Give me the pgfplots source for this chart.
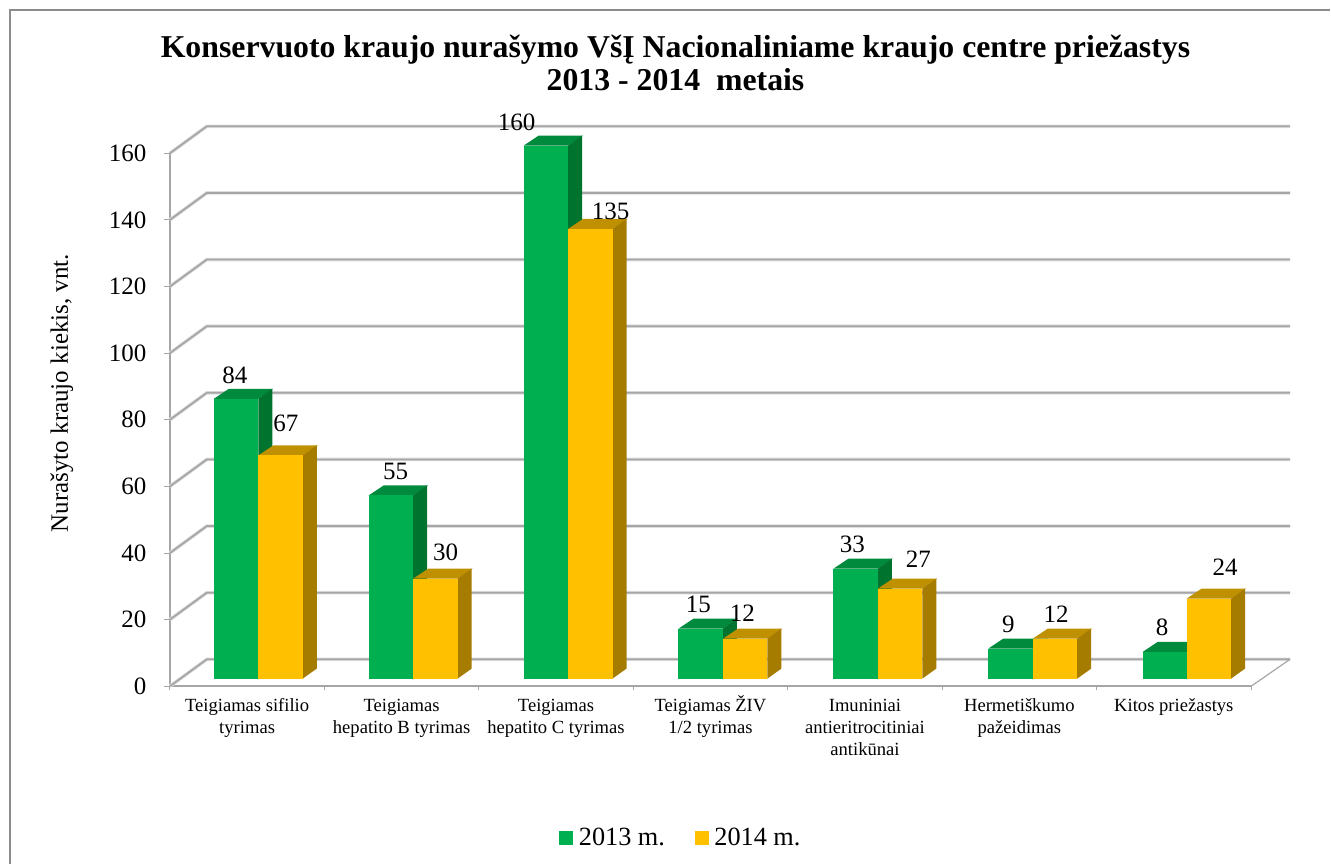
\documentclass[border=0pt]{standalone}
\usepackage{pgfplots}
\pgfplotsset{compat=1.18}
\usepackage{fontspec}
\setmainfont{Liberation Serif}
\definecolor{gridg}{HTML}{A6A6A6}
\definecolor{halo}{HTML}{DDDDDD}
\definecolor{frameg}{HTML}{8C8C8C}
\definecolor{gfront}{HTML}{00B050}
\definecolor{gtop}{HTML}{008A3E}
\definecolor{gside}{HTML}{00742F}
\definecolor{yfront}{HTML}{FFC000}
\definecolor{ytop}{HTML}{BF9000}
\definecolor{yside}{HTML}{A67C00}
% left edge, value, top colour, side colour, front colour
\newcommand\threedbar[5]{%
  \addplot[forget plot,fill=#3,draw=none] coordinates {({#1},{#2+2.3}) ({#1+15},{#2+5.3}) ({#1+59.5},{#2+5.3}) ({#1+44.5},{#2+2.3})} -- cycle;
  \addplot[forget plot,fill=#4,draw=none] coordinates {({#1+44.5},2.3) ({#1+58.5},5.3) ({#1+58.5},{#2+5.3}) ({#1+44.5},{#2+2.3})} -- cycle;
  \addplot[forget plot,fill=#5,draw=none] coordinates {({#1},2.3) ({#1+44.5},2.3) ({#1+44.5},{#2+2.3}) ({#1},{#2+2.3})} -- cycle;
}
\newcommand\vlab[3]{\node[font=\fontsize{25}{25}\selectfont,inner sep=0pt] at (axis cs:#1,{(686.7-#2)/3.3333}) {#3};}
\newcommand\st{\rule{0pt}{16pt}}
\begin{document}
\begin{tikzpicture}
\begin{axis}[
  scale only axis, width=1082pt, height=533.4pt,
  xmin=170, xmax=1252, ymin=0, ymax=160,
  clip=false,
  axis lines*=left,
  axis line style={draw=gridg,line width=1.6pt,-},
  ytick={0,20,...,160},
  /pgf/number format/assume math mode=true,
  yticklabel style={font=\fontsize{25}{25}\selectfont,xshift=-14pt},
  ytick style={draw=gridg,line width=1pt},
  major tick length=6pt,
  tick align=outside,
  xtick={247.3,401.9,556.4,711,865.6,1020.1,1174.7},
  xticklabels={{\st Teigiamas sifilio\\tyrimas},{\st Teigiamas\\hepatito B tyrimas},{\st Teigiamas\\hepatito C tyrimas},{\st Teigiamas ŽIV\\1/2 tyrimas},{\st Imuniniai\\antieritrocitiniai\\antikūnai},{\st Hermetiškumo\\pažeidimas},{\st Kitos priežastys}},
  xticklabel style={font=\fontsize{18.6}{22}\selectfont,align=center,anchor=north,inner sep=0pt,yshift=-3pt},
  x tick style={draw=none},
  minor xtick={170,324.6,479.1,633.7,788.3,942.9,1097.4,1252},
  minor tick length=4pt,
  minor x tick style={draw=gridg,line width=1pt},
  ylabel={Nurašyto kraujo kiekis, vnt.},
  every axis y label/.style={at={(axis cs:62,88)},rotate=90,anchor=center,font=\fontsize{25}{25}\selectfont},
  title={Konservuoto kraujo nurašymo VšĮ Nacionaliniame kraujo centre priežastys\\2013 - 2014\ \ metais},
  every axis title/.style={at={(axis cs:676,187)},anchor=center,align=center,font=\fontsize{31.8}{33}\selectfont\bfseries},
  legend style={at={(axis cs:681.5,-45.4)},anchor=center,draw=none,fill=none,legend columns=2,
    font=\fontsize{26.3}{26.3}\selectfont,
    /tikz/every odd column/.append style={column sep=4pt},
    /tikz/every even column/.append style={column sep=28pt},inner sep=0pt},
]
% page extent and outer frame
\path (axis cs:0,206.01) rectangle (axis cs:1331,-53.49);
\draw[frameg,line width=2pt] (axis cs:10,-53.49) -- (axis cs:10,203) -- (axis cs:1331,203);
% legend keys
\addlegendimage{legend image code/.code={\fill[gfront] (0pt,-6.5pt) rectangle (13pt,6.5pt);}}
\addlegendentry{2013 m.}
\addlegendimage{legend image code/.code={\fill[yfront] (0pt,-6.5pt) rectangle (13pt,6.5pt);}}
\addlegendentry{2014 m.}
% walls and floor
\pgfplotsinvokeforeach{0,20,40,60,80,100,120,140,160}{
  \addplot[forget plot,halo,line width=3.5pt] coordinates {(170,#1) (207,#1+8.1) (1291,#1+8.1)};
  \addplot[forget plot,gridg,line width=1.8pt] coordinates {(170,#1) (207,#1+8.1) (1291,#1+8.1)};
}
\addplot[forget plot,gridg,line width=1.2pt] coordinates {(1252,0) (1291,8.1)};
% 2013
\threedbar{214}{84}{gtop}{gside}{gfront}
\threedbar{369}{55}{gtop}{gside}{gfront}
\threedbar{524}{160}{gtop}{gside}{gfront}
\threedbar{679}{15}{gtop}{gside}{gfront}
\threedbar{834}{33}{gtop}{gside}{gfront}
\threedbar{989}{9}{gtop}{gside}{gfront}
\threedbar{1143.5}{8}{gtop}{gside}{gfront}
% 2014
\threedbar{258.5}{67}{ytop}{yside}{yfront}
\threedbar{413.5}{30}{ytop}{yside}{yfront}
\threedbar{568.5}{135}{ytop}{yside}{yfront}
\threedbar{723.5}{12}{ytop}{yside}{yfront}
\threedbar{878.5}{27}{ytop}{yside}{yfront}
\threedbar{1033.5}{12}{ytop}{yside}{yfront}
\threedbar{1187.5}{24}{ytop}{yside}{yfront}
% value labels
\vlab{235}{376}{84}\vlab{286}{424}{67}\vlab{396}{472}{55}\vlab{446}{553}{30}
\vlab{517}{122}{160}\vlab{611}{211}{135}\vlab{699}{605}{15}\vlab{743}{614}{12}
\vlab{853}{545}{33}\vlab{919}{560}{27}\vlab{1009}{625}{9}\vlab{1057}{615}{12}
\vlab{1163}{628}{8}\vlab{1226}{568}{24}
\end{axis}
\end{tikzpicture}
\end{document}
